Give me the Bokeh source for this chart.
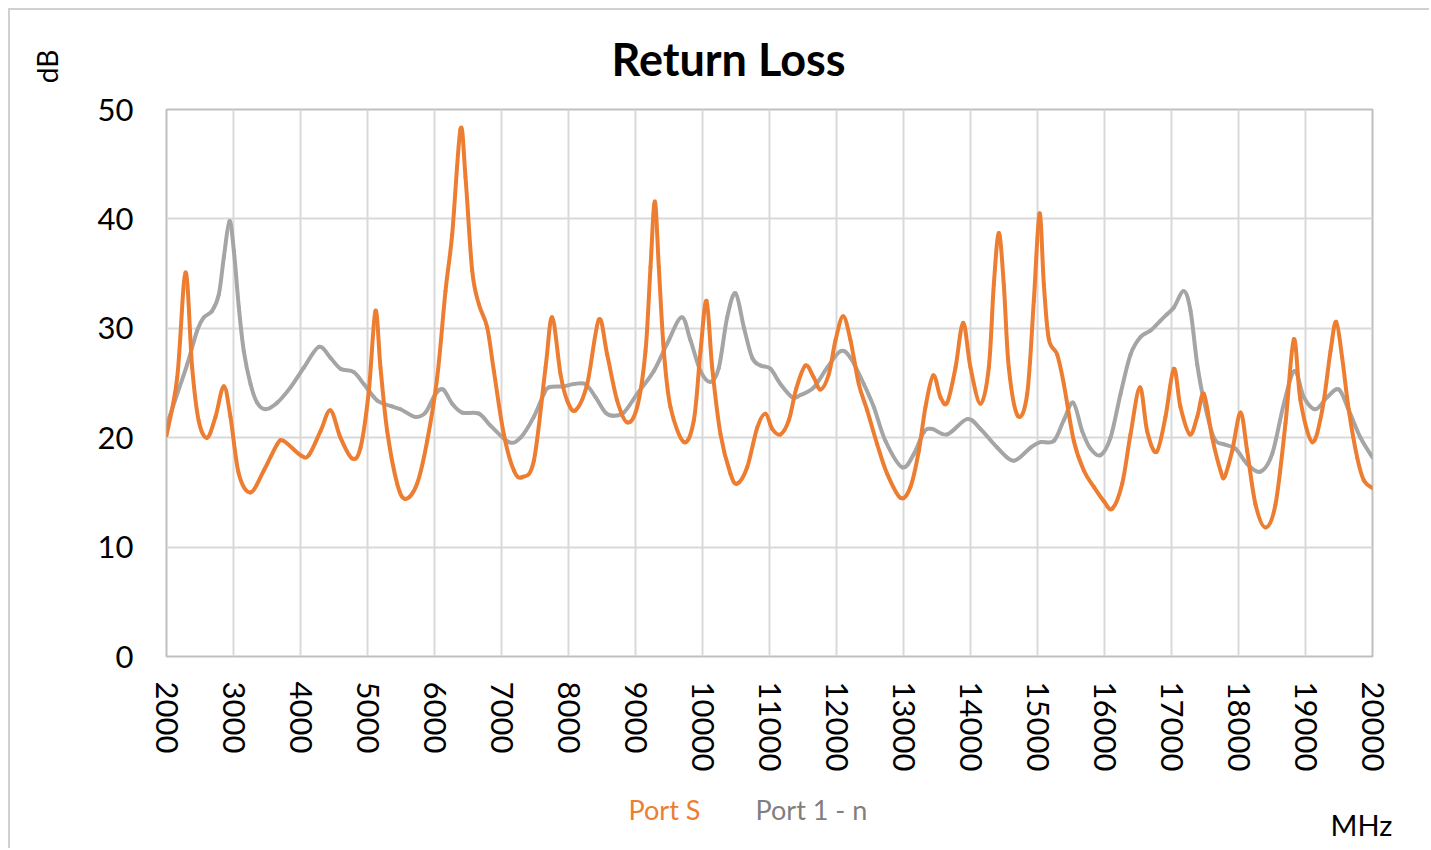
import math
from bokeh.plotting import figure
from bokeh.models import Label, FixedTicker, Range1d
from bokeh.embed import file_html
from bokeh.resources import INLINE

# Port S (orange) - frequency (MHz), return loss (dB)
port_s_freq = [2000, 2160, 2284, 2383, 2482, 2607, 2731, 2855, 2955, 3079, 3254, 3453, 3652, 3751,
               4000, 4124, 4299, 4448, 4597, 4771, 4896, 5020, 5119, 5194, 5294, 5443, 5567, 5741,
               5891, 6040, 6164, 6264, 6388, 6463, 6562, 6662, 6786, 6886, 7035, 7185, 7309, 7483,
               7657, 7756, 7881, 7980, 8104, 8279, 8453, 8577, 8726, 8876, 9025, 9149, 9224, 9288,
               9348, 9423, 9522, 9721, 9871, 9970, 10060, 10145, 10269, 10418, 10518, 10667, 10816,
               10940, 11040, 11164, 11289, 11400, 11537, 11661, 11761, 11885, 11985, 12099, 12209,
               12333, 12458, 12607, 12756, 12955, 13104, 13229, 13328, 13443, 13552, 13652, 13776,
               13891, 14000, 14149, 14273, 14348, 14423, 14497, 14572, 14706, 14846, 14945, 15030,
               15095, 15169, 15294, 15393, 15542, 15692, 15841, 15990, 16115, 16264, 16388, 16528,
               16637, 16776, 16910, 17035, 17134, 17274, 17384, 17483, 17607, 17731, 17791, 17906,
               18030, 18129, 18254, 18403, 18552, 18701, 18826, 18925, 19100, 19249, 19373, 19458,
               19547, 19647, 19771, 19871, 20000]
port_s_db = [20.2, 25.5, 35.1, 26.4, 21.5, 20.0, 21.9, 24.7, 21.9, 16.7, 15.0, 17.0, 19.4, 19.7,
             18.4, 18.4, 20.6, 22.5, 20.0, 18.1, 19.1, 24.3, 31.6, 26.4, 20.6, 15.8, 14.4, 15.8,
             19.7, 25.5, 33.4, 38.6, 48.2, 43.8, 35.3, 32.2, 30.1, 26.1, 20.3, 17.0, 16.4, 17.9,
             26.4, 31.0, 25.8, 23.4, 22.5, 24.9, 30.8, 27.6, 23.4, 21.4, 22.8, 27.9, 35.6, 41.6,
             35.6, 27.9, 22.8, 19.6, 21.6, 27.9, 32.5, 26.4, 20.3, 16.7, 15.8, 17.3, 20.9,
             22.2, 20.8, 20.3, 21.6, 24.5, 26.6, 25.5, 24.4, 25.8, 28.9, 31.1, 28.9,
             24.9, 22.5, 19.4, 16.7, 14.5, 15.5, 18.8, 22.8, 25.7, 23.7, 23.2, 26.4,
             30.5, 26.4, 23.1, 26.4, 34.0, 38.7, 34.0, 26.4, 22.0, 24.0, 32.5, 40.5,
             34.0, 29.0, 27.6, 24.9, 19.7, 17.0, 15.5, 14.2, 13.5, 15.8, 20.3, 24.6,
             20.6, 18.7, 21.9, 26.3, 22.8, 20.3, 21.9, 24.0, 20.0, 17.0, 16.4, 18.8,
             22.3, 18.8, 13.9, 11.8, 13.9, 21.3, 29.0, 23.4, 19.6, 22.5, 27.9, 30.6,
             27.3, 22.5, 18.2, 16.1, 15.4]

# Port 1 - n (gray)
port_1n_freq = [2000, 2160, 2309, 2458, 2557, 2682, 2781, 2856, 2940, 3005, 3080, 3154, 3254, 3353,
                3478, 3652, 3851, 4050, 4274, 4448, 4597, 4796, 4945, 5144, 5343, 5493, 5716, 5866,
                6015, 6130, 6264, 6413, 6662, 6836, 7109, 7284, 7483, 7632, 7706, 7930, 8080, 8254,
                8403, 8552, 8677, 8826, 9025, 9274, 9473, 9687, 9821, 9970, 10119, 10244, 10368,
                10493, 10617, 10742, 10866, 11015, 11164, 11339, 11463, 11661, 11861, 12060, 12209,
                12408, 12557, 12731, 12980, 13154, 13303, 13428, 13652, 13950, 14149, 14398, 14646,
                14896, 15045, 15244, 15393, 15533, 15667, 15791, 15940, 16090, 16239, 16388, 16537,
                16687, 16836, 16935, 17035, 17184, 17284, 17384, 17483, 17632, 17781, 17955, 18129,
                18328, 18502, 18677, 18836, 18975, 19149, 19323, 19498, 19647, 19821, 20000]
port_1n_db = [21.1, 24.0, 26.7, 29.8, 31.0, 31.6, 33.1, 36.5, 39.8, 37.1, 31.9, 27.9, 24.9, 23.2,
              22.6, 23.2, 24.6, 26.4, 28.3, 27.3, 26.3, 26.0, 24.9, 23.4, 22.9, 22.6, 21.9, 22.3,
              24.0, 24.4, 23.1, 22.3, 22.2, 21.1, 19.6, 20.0, 21.9, 24.0, 24.6, 24.7, 24.9, 24.9,
              23.7, 22.3, 22.0, 22.3, 24.0, 26.1, 28.6, 31.0, 28.9, 26.1, 25.1, 26.4, 31.0,
              33.2, 30.1, 27.3, 26.6, 26.3, 24.9, 23.7, 23.9, 24.6, 26.4, 27.9, 27.3,
              24.9, 22.8, 19.7, 17.3, 18.5, 20.5, 20.8, 20.3, 21.7, 20.8, 19.1, 17.9,
              19.1, 19.6, 19.7, 21.6, 23.2, 20.6, 19.0, 18.4, 20.0, 24.0, 27.6, 29.2,
              29.8, 30.7, 31.3, 31.9, 33.4, 31.6, 26.7, 23.4, 20.0, 19.4, 19.0, 17.6,
              16.9, 18.5, 23.1, 26.1, 23.7, 22.6, 23.7, 24.4, 22.5, 20.0, 18.2]

x_ticks = list(range(2000, 20001, 1000))
y_ticks = [0, 10, 20, 30, 40, 50]

ORANGE = "#ED7D31"
GRAY = "#A5A5A5"
FONT = "Lato"


def smooth(xs, ys):
    """Bezier control points for a smoothed line through the data points."""
    n = len(xs)
    x0, y0, x1, y1, cx0, cy0, cx1, cy1 = [], [], [], [], [], [], [], []
    for i in range(n - 1):
        a = i - 1 if i > 0 else i
        d = i + 2 if i + 2 < n else i + 1
        x0.append(xs[i]); y0.append(ys[i])
        x1.append(xs[i + 1]); y1.append(ys[i + 1])
        cx0.append(xs[i] + (xs[i + 1] - xs[a]) / 6)
        cy0.append(ys[i] + (ys[i + 1] - ys[a]) / 6)
        cx1.append(xs[i + 1] - (xs[d] - xs[i]) / 6)
        cy1.append(ys[i + 1] - (ys[d] - ys[i]) / 6)
    return dict(x0=x0, y0=y0, x1=x1, y1=y1, cx0=cx0, cy0=cy0, cx1=cx1, cy1=cy1)


p = figure(width=1421, height=840, output_backend="svg", toolbar_location=None,
           x_range=Range1d(2000, 20000), y_range=Range1d(0, 50),
           min_border_left=156, min_border_right=59, min_border_top=99, min_border_bottom=194)
p.styles = {"margin-left": "8px", "margin-top": "8px",
            "border-left": "2px solid #D0D0D0", "border-top": "2px solid #D0D0D0"}
p.background_fill_color = "white"
p.border_fill_color = "white"
p.outline_line_color = "#BFBFBF"
p.outline_line_width = 2

p.bezier(line_color=GRAY, line_width=4, line_cap="round", **smooth(port_1n_freq, port_1n_db))
p.bezier(line_color=ORANGE, line_width=4, line_cap="round", **smooth(port_s_freq, port_s_db))

for ax in (p.xaxis[0], p.yaxis[0]):
    ax.axis_line_color = None
    ax.major_tick_line_color = None
    ax.minor_tick_line_color = None
    ax.major_label_text_font = FONT
    ax.major_label_text_font_size = "31px"
    ax.major_label_text_color = "#000000"

p.xaxis[0].ticker = FixedTicker(ticks=x_ticks)
p.yaxis[0].ticker = FixedTicker(ticks=y_ticks)
p.xaxis[0].major_label_orientation = -math.pi / 2
p.xaxis[0].major_label_standoff = 19
p.yaxis[0].major_label_standoff = 27

p.xgrid.grid_line_color = "#D9D9D9"
p.ygrid.grid_line_color = "#D9D9D9"
p.xgrid.grid_line_width = 2
p.ygrid.grid_line_width = 2

OX, OY = 10, 10  # canvas origin on the page


def lab(place, px, py, text, **kw):
    # labels live in side panels (not clipped to the frame), positioned in canvas pixels
    p.add_layout(Label(x=px - OX, y=py - OY, x_units="canvas", y_units="canvas", text=text,
                       text_baseline="middle", text_font=FONT, **kw), place)


lab("above", 726, 56, "Return Loss", text_align="center", text_font_style="bold",
    text_font_size="45px", text_color="#000000")
lab("above", 753, 807, "Port 1 - n", text_align="left", text_font_size="27px", text_color="#7F7F7F")
lab("left", 44, 64, "dB", angle=math.pi / 2, text_align="center", text_font_size="28px",
    text_color="#000000")
lab("below", 626, 807, "Port S", text_align="left", text_font_size="27px", text_color=ORANGE)
lab("below", 1328, 822, "MHz", text_align="left", text_font_size="29px", text_color="#000000")

open("out.html", "w").write(file_html(p, INLINE))
